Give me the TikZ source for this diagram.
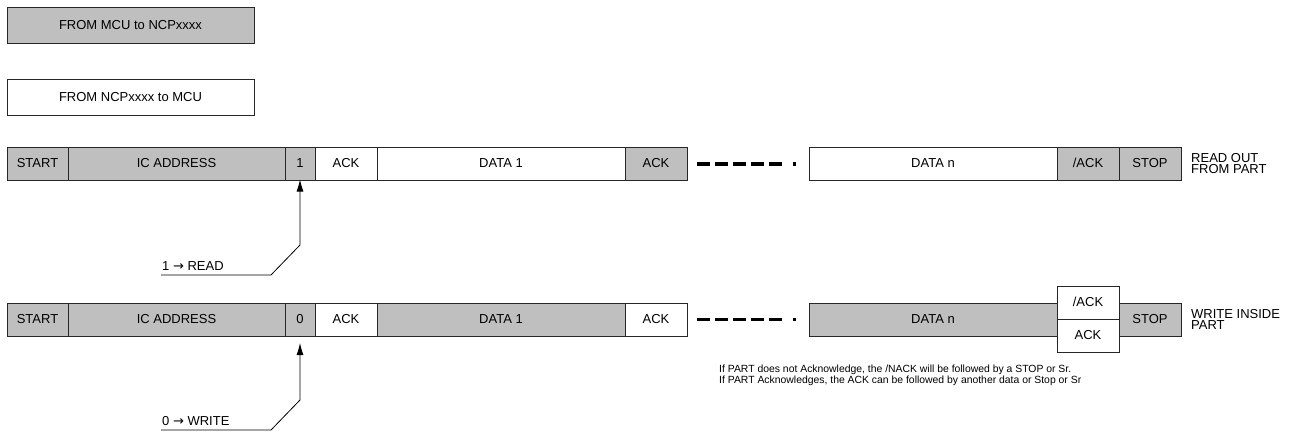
\documentclass[tikz,border=0pt]{standalone}
\usepackage{fontspec}
\setmainfont{Liberation Sans}
\newfontfamily\arrowfont{DejaVu Sans}
\usetikzlibrary{positioning,arrows.meta}
\definecolor{hostgray}{gray}{0.75}

\begin{document}
\begin{tikzpicture}[
    x=1pt, y=-1pt,
    node distance=0pt,
    field/.style={rectangle, draw=black!85, line width=0.8pt, minimum height=33pt, inner sep=0pt, outer sep=0pt, text height=9.3pt, text depth=2pt, font=\fontsize{13}{13}\selectfont},
    host/.style={field, fill=hostgray},
    part/.style={field, fill=white},
    legend/.style={rectangle, draw=black!85, line width=0.8pt, minimum width=247pt, minimum height=36pt, inner sep=0pt, outer sep=0pt, anchor=north west, font=\fontsize{13}{13}\selectfont},
    rowlabel/.style={align=left, inner sep=0pt, font=\fontsize{13}{11}\selectfont},
    marker/.style={inner sep=0pt, anchor=base west, font=\fontsize{13}{13}\selectfont},
    note/.style={align=left, inner sep=0pt, anchor=base west, font=\fontsize{10.4}{11}\selectfont},
    pointer/.style={draw, line width=0.8pt, -{Latex[length=12pt,width=7pt]}},
    more/.style={draw, line width=3.3pt, dash pattern=on 13pt off 5pt on 13pt off 5pt on 13pt off 5pt on 13pt off 5pt on 13pt off 11pt on 3pt off 20pt}
]
    \useasboundingbox (0,0) rectangle (1296,437);

    % Legend
    \node [legend, fill=hostgray] (fromhost) at (7,7) {FROM MCU to NCPxxxx};
    \node [legend, fill=white] (frompart) at (7,79.5) {FROM NCPxxxx to MCU};

    % Read frame
    \node [host, minimum width=61pt, anchor=west] (start1) at (7,164) {START};
    \node [host, minimum width=217pt, right=of start1] (addr1) {IC ADDRESS};
    \node [host, minimum width=30pt, right=of addr1] (bit1) {1};
    \node [part, minimum width=62pt, right=of bit1] (ack1) {ACK};
    \node [part, minimum width=248pt, right=of ack1] (data1) {DATA 1};
    \node [host, minimum width=62pt, right=of data1] (ackb1) {ACK};
    \node [part, minimum width=248pt, right=122pt of ackb1] (datan1) {DATA n};
    \node [host, minimum width=62pt, right=of datan1] (nack1) {/ACK};
    \node [host, minimum width=62pt, right=of nack1] (stop1) {STOP};
    \node [rowlabel, right=10pt of stop1] (readlbl) {READ OUT\\FROM PART};

    % Write frame
    \node [host, minimum width=61pt, anchor=west] (start2) at (7,319.5) {START};
    \node [host, minimum width=217pt, right=of start2] (addr2) {IC ADDRESS};
    \node [host, minimum width=30pt, right=of addr2] (bit2) {0};
    \node [part, minimum width=62pt, right=of bit2] (ack2) {ACK};
    \node [host, minimum width=248pt, right=of ack2] (data2) {DATA 1};
    \node [part, minimum width=62pt, right=of data2] (ackb2) {ACK};
    \node [host, minimum width=248pt, right=122pt of ackb2] (datan2) {DATA n};
    \node [part, minimum width=62pt, anchor=south west] (nack2) at (datan2.east) {/ACK};
    \node [part, minimum width=62pt, anchor=north west] (ackn2) at (datan2.east) {ACK};
    \node [host, minimum width=62pt, right=62pt of datan2] (stop2) {STOP};
    \node [rowlabel, right=10pt of stop2] (writelbl) {WRITE INSIDE\\PART};

    % Gaps
    \draw [more] ([xshift=10pt]ackb1.east) -- ([xshift=-11pt]datan1.west);
    \draw [more] ([xshift=10pt]ackb2.east) -- ([xshift=-11pt]datan2.west);

    % R/W bit
    \coordinate (rdfoot) at (161,275);
    \node [marker] (rdtext) at (162,270) {1 {\arrowfont →} READ};
    \draw [pointer, shorten >=-1pt] (rdfoot) -- ++(110,0) -- ++(29,-30) -- (bit1.south);
    \coordinate (wrfoot) at (161,430);
    \node [marker] (wrtext) at (162,425) {0 {\arrowfont →} WRITE};
    \draw [pointer, shorten >=7pt] (wrfoot) -- ++(110,0) -- ++(29,-30) -- (bit2.south);

    % Note
    \node [note] (ackinfo) at (719,383) {If PART does not Acknowledge, the /NACK will be followed by a STOP or Sr.\\If PART Acknowledges, the ACK can be followed by another data or Stop or Sr};

\end{tikzpicture}
\end{document}
